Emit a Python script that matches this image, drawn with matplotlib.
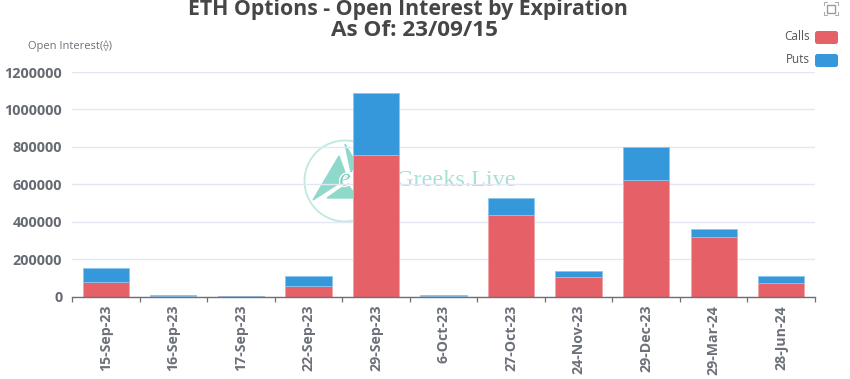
import matplotlib
matplotlib.use("Agg")
import matplotlib.pyplot as plt
import matplotlib.patheffects as pe
from matplotlib.patches import Circle, Polygon, FancyBboxPatch, Rectangle
import numpy as np

plt.rcParams['font.family'] = ['Open Sans', 'DejaVu Sans']

categories = ['15-Sep-23', '16-Sep-23', '17-Sep-23', '22-Sep-23', '29-Sep-23', '6-Oct-23',
              '27-Oct-23', '24-Nov-23', '29-Dec-23', '29-Mar-24', '28-Jun-24']
calls = [75000, 4000, 1500, 55000, 758000, 3000, 436000, 103000, 624000, 318000, 71000]
puts = [80000, 5000, 1500, 57000, 331000, 5000, 91000, 33000, 176000, 43000, 38000]
y_ticks = [0, 200000, 400000, 600000, 800000, 1000000, 1200000]
series_names = ['Calls', 'Puts']
title_line1 = 'ETH Options - Open Interest by Expiration'
title_line2 = 'As Of: 23/09/15'
y_name = 'Open Interest(\u27e0)'
watermark = 'Greeks.Live'

RED = '#E56167'
BLUE = '#3498DB'
W, H = 850, 379
fig = plt.figure(figsize=(W / 100, H / 100), dpi=100, facecolor='white')

# Overlay in pixel coordinates, for watermark and chrome
bg = fig.add_axes([0, 0, 1, 1], zorder=0)
bg.set_xlim(0, W); bg.set_ylim(H, 0); bg.axis('off')
teal = '#8FD8CC'

# Main plot
left, right, top, bottom = 72, 815, 72, 296.5
ax = fig.add_axes([left / W, 1 - bottom / H, (right - left) / W, (bottom - top) / H],
                  zorder=1, facecolor='none')
x = np.arange(len(categories))
ax.bar(x, calls, width=0.685, color=RED, edgecolor='#F2A6A9', linewidth=0.6, zorder=3)
ax.bar(x, puts, width=0.685, bottom=calls, color=BLUE, edgecolor='#8CC6EC', linewidth=0.6, zorder=3)
ax.set_xlim(-0.5, len(categories) - 0.5)
ax.set_ylim(0, 1200000)
ax.set_yticks(y_ticks)
ax.set_yticklabels([str(v) for v in y_ticks], fontsize=10.4, fontweight='bold', color='#666A72')
ax.tick_params(axis='y', length=0, pad=7)
ax.grid(axis='y', color='#E3E7F3', lw=1, zorder=1)
ax.set_axisbelow(True)
for s in ['top', 'right', 'left']:
    ax.spines[s].set_visible(False)
ax.spines['bottom'].set_color('#6E7079')
ax.spines['bottom'].set_linewidth(1)
ax.spines['bottom'].set_zorder(4)
ax.set_xticks(np.arange(len(categories) + 1) - 0.5)
ax.set_xticklabels([])
ax.tick_params(axis='x', length=3.5, width=0.9, color='#6E7079')
ax.set_xticks(x, minor=True)
ax.set_xticklabels(categories, minor=True, rotation=90, fontsize=10.2, fontweight='bold',
                   color='#6C7078', ha='center', va='top')
ax.tick_params(axis='x', which='minor', length=0, pad=6)

# Watermark (sits in the background axes, visible through the transparent plot)
bg.add_patch(Circle((345, 181), 40.5, fill=False, ec='#BFE8E1', lw=1.3, zorder=1.5))
bg.add_patch(Polygon([[313, 200], [339, 156], [347, 178]], color=teal, zorder=1.5))
bg.add_patch(Polygon([[327, 198], [347, 184], [358, 198]], color=teal, zorder=1.5))
bg.add_patch(Polygon([[345, 144], [356, 163], [351, 172]], color=teal, zorder=1.5))
bg.text(345, 179.5, 'e', family='Liberation Serif', style='italic', fontsize=18, color='#7CCFC2',
        ha='center', va='center', zorder=1.6,
        path_effects=[pe.withStroke(linewidth=2, foreground='white')])
bg.text(396, 180, watermark, family='Liberation Serif', fontsize=17.5, color='#A9E0D7',
        ha='left', va='center', zorder=1.6)

# Chrome
fg = fig.add_axes([0, 0, 1, 1], zorder=2)
fg.set_xlim(0, W); fg.set_ylim(H, 0); fg.axis('off')
fg.text(408, 10, title_line1, fontsize=15.35, fontweight='bold', color='#464646', ha='center', va='center')
fg.text(414, 30, title_line2, fontsize=16.2, fontweight='bold', color='#464646', ha='center', va='center')
fg.text(28, 46, y_name, fontsize=8, color='#6E7079', ha='left', va='center',
        family=['Open Sans', 'DejaVu Sans'])
for yc, name, col in zip([37.5, 60.5], series_names, [RED, BLUE]):
    fg.add_patch(FancyBboxPatch((815, yc - 6.5), 23, 13, boxstyle='round,pad=0,rounding_size=2.5',
                                fc=col, ec='none'))
    fg.text(810, yc - 0.8, name, fontsize=8.5, color='#555555', ha='right', va='center')
# Toolbox icon
fg.add_patch(Rectangle((827, 4.5), 8, 8, fill=False, ec='#9A9A9A', lw=1))
for cx, cy, dx, dy in [(824.5, 1.5, 1, 1), (838, 1.5, -1, 1), (824.5, 15, 1, -1), (838, 15, -1, -1)]:
    fg.plot([cx + 3 * dx, cx, cx], [cy, cy, cy + 3 * dy], color='#B0B0B0', lw=0.8)

fig.savefig('out.png', dpi=100, facecolor='white')
